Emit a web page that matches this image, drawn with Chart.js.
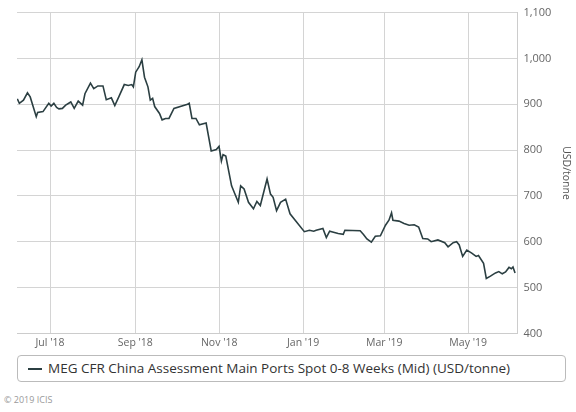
<!DOCTYPE html>
<html><head><meta charset="utf-8">
<script src="https://cdn.jsdelivr.net/npm/chart.js@4"></script>
<style>
body{margin:0;background:#fff;font-family:"Open Sans",sans-serif;}
#wrap{position:absolute;left:0;top:0;width:576px;height:352px;}
#legend{position:absolute;left:17px;top:355px;width:549px;height:27px;border:1px solid #bbb;border-radius:4px;box-sizing:border-box;font-size:13.5px;color:#333;line-height:25px;padding-left:10px;}
#legend span.sw{display:inline-block;width:14px;height:2px;background:#2b3f42;vertical-align:middle;margin-right:6px;}
#copy{position:absolute;left:4px;top:393px;font-size:9px;color:#999;}
</style></head><body>
<div id="wrap"><canvas id="c"></canvas></div>
<div id="legend"><span class="sw"></span>MEG CFR China Assessment Main Ports Spot 0-8 Weeks (Mid) (USD/tonne)</div>
<div id="copy">© 2019 ICIS</div>
<script>
// days since 2018-06-07
const days = [0.2,1.7,4.7,7.6,9.6,14.0,15.0,18.9,23.1,24.8,26.8,28.8,30.5,33.0,35.4,39.1,41.6,44.5,47.7,49.4,53.4,55.8,58.8,62.5,64.9,68.6,71.1,74.0,78.0,80.9,83.4,84.6,86.3,88.8,90.8,92.7,95.2,96.9,98.6,100.1,103.6,105.5,108,110.5,114.1,124,125.2,127.2,130.1,132.6,137.5,141.2,144.9,146.9,148.6,149.8,151.8,156,160.9,162.6,165.1,168.3,171.9,174.4,176.9,181.8,184.3,186.2,188.7,191.6,195.3,198.5,208.9,212.6,215.7,217.5,222.4,224.9,227.3,233.5,237.2,238.4,249.5,251.9,254.4,257.6,260.5,264.2,267.9,270.4,272.3,273.3,277.7,281.4,285.1,288.8,292.0,295,298.6,301.1,306,311,313.4,317.1,319.6,321.5,324,327,330.6,333.8,335.5,339.2,341.2,344.2,347.9,350.3,352.8,355.2,357.7,359.4,360.6,362.1];
const values = [912,902,909,925,916,873,882,884,902,896,902,893,890,891,898,905,891,907,898,923,946,934,940,940,910,914,897,916,943,941,943,938,970,982,997,959,938,909,913,895,880,866,869,869,891,900,902,869,869,855,859,798,801,808,776,790,787,722,686,722,715,686,672,688,679,737,704,697,668,686,693,661,622,625,623,625,629,609,623,618,616,625,624,616,606,599,612,613,636,647,663,647,645,640,636,637,632,607,606,600,604,598,589,598,600,593,568,582,575,568,570,553,520,525,532,535,530,534,544,541,545,532];
const tickDays = [24,86,147,208,267,328];
const tickLabels = ["Jul '18","Sep '18","Nov '18","Jan '19","Mar '19","May '19"];
const yTicks = [400,500,600,700,800,900,1000,1100];

new Chart(document.getElementById('c'),{
  type:'line',
  data:{datasets:[{data:days.map((d,i)=>({x:d,y:values[i]})),borderColor:'#2b3f42',borderWidth:1.6,pointRadius:0,tension:0,fill:false}]},
  options:{
    responsive:true,maintainAspectRatio:false,animation:false,
    layout:{padding:{left:17,top:0,right:0,bottom:0}},
    plugins:{legend:{display:false},tooltip:{enabled:false}},
    scales:{
      x:{type:'linear',min:0,max:363.8,
        afterBuildTicks:a=>{a.ticks=tickDays.map(v=>({value:v}));},
        ticks:{autoSkip:false,maxRotation:0,color:'#666',font:{family:'Open Sans',size:10.5},callback:(v)=>tickLabels[tickDays.indexOf(v)]},
        grid:{color:'#d4d4d4',drawTicks:false},border:{color:'#ccc'}},
      y:{position:'right',min:400,max:1100,
        afterBuildTicks:a=>{a.ticks=yTicks.map(v=>({value:v}));},
        ticks:{color:'#666',font:{family:'Open Sans',size:11},padding:6,callback:v=>v.toLocaleString('en-US')},
        grid:{color:'#d4d4d4',drawTicks:false},border:{color:'#ccc'},
        title:{display:true,text:'USD/tonne',color:'#555',padding:{top:4,bottom:2},font:{family:'Open Sans',size:10.5}}}
    }
  }
});
</script></body></html>
